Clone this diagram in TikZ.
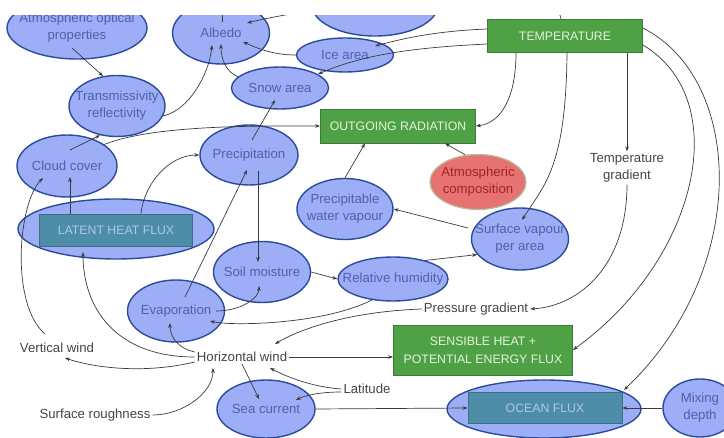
\documentclass[tikz,border=0pt]{standalone}
\usepackage{fontspec}
\setmainfont{Liberation Sans}
\usetikzlibrary{
  shapes.geometric,
  arrows.meta
}
\definecolor{blobfill}{HTML}{9DAEF6}
\definecolor{blobline}{HTML}{2B4B9B}
\definecolor{blobtext}{HTML}{4F60B0}
\definecolor{boxfill}{HTML}{4FA146}
\definecolor{boxline}{HTML}{3E7A38}
\definecolor{boxtext}{HTML}{E4F3DC}
\definecolor{fluxfill}{HTML}{4E8DA8}
\definecolor{fluxline}{HTML}{3D6E88}
\definecolor{fluxtext}{HTML}{ABC8EC}
\definecolor{compfill}{HTML}{E77272}
\definecolor{compline}{HTML}{B5BE9E}
\definecolor{comptext}{HTML}{9E2626}
\definecolor{labeltext}{HTML}{454545}
\definecolor{linkcol}{HTML}{3A3A3A}
\tikzset{
  every node/.style={font=\fontsize{13.2}{17}\selectfont},
  blob/.style={
    ellipse,
    draw=blobline,
    fill=blobfill,
    line width=1.4pt,
    text=blobtext,
    inner xsep=-25pt,
    inner ysep=-12pt,
    align=center
  },
  greenbox/.style={
    rectangle,
    draw=boxline,
    fill=boxfill,
    line width=0.8pt,
    text=boxtext,
    inner sep=0pt,
    align=center,
    font=\fontsize{12.3}{18}\selectfont
  },
  fluxbox/.style={
    rectangle,
    draw=fluxline,
    fill=fluxfill,
    line width=0.8pt,
    text=fluxtext,
    inner sep=0pt,
    font=\fontsize{12.3}{17}\selectfont
  },
  compblob/.style={
    ellipse,
    draw=compline,
    fill=compfill,
    line width=1.2pt,
    text=comptext,
    inner xsep=-25pt,
    inner ysep=-12pt,
    align=center
  },
  factor/.style={text=labeltext, align=center, inner sep=2pt},
  link/.style={draw=linkcol, line width=0.7pt, -{Stealth[length=5pt,width=3.6pt]}}
}

\begin{document}
\begin{tikzpicture}[x=1pt,y=-1pt]
  \useasboundingbox (0,0) rectangle (724,438);
  \clip (0,16) rectangle (724,438);

  \node[blob, minimum width=140pt, minimum height=62pt] (atmopt) at (77,28) {Atmospheric optical\\properties};
  \node[blob, minimum width=97pt, minimum height=62pt] (albedo) at (221,33) {Albedo};
  \node[blob, minimum width=126pt, minimum height=62pt] (topell) at (375,5) {};
  \node[blob, minimum width=97pt, minimum height=34pt] (icearea) at (345,55) {Ice area};
  \node[blob, minimum width=97pt, minimum height=42pt] (snowarea) at (280,88) {Snow area};
  \node[greenbox, minimum width=155pt, minimum height=33pt] (temp) at (565,36) {TEMPERATURE};
  \node[greenbox, minimum width=155pt, minimum height=34pt] (outrad) at (398,126) {OUTGOING RADIATION};
  \node[blob, minimum width=96pt, minimum height=61pt] (transm) at (117,106) {Transmissivity\\reflectivity};
  \node[blob, minimum width=100pt, minimum height=62pt] (cloud) at (67,166) {Cloud cover};
  \node[blob, minimum width=98pt, minimum height=60pt] (precip) at (249,155) {Precipitation};
  \node[compblob, minimum width=96pt, minimum height=55pt] (atmcomp) at (478,182) {Atmospheric\\composition};
  \node[factor] (tgrad) at (627,168) {Temperature\\gradient};
  \node[blob, minimum width=96pt, minimum height=61pt] (pwv) at (345,209) {Precipitable\\water vapour};
  \node[blob, minimum width=196pt, minimum height=60pt] (latent) at (116,229) {};
  \node[fluxbox, minimum width=153pt, minimum height=32pt] (latentbox) at (116,230) {LATENT HEAT FLUX};
  \node[blob, minimum width=97pt, minimum height=62pt] (svap) at (520,239) {Surface vapour\\per area};
  \node[blob, minimum width=97pt, minimum height=61pt] (soil) at (262,272) {Soil moisture};
  \node[blob, minimum width=110pt, minimum height=44pt] (relhum) at (393,279) {Relative humidity};
  \node[blob, minimum width=97pt, minimum height=62pt] (evap) at (176,311) {Evaporation};
  \node[factor] (pgrad) at (476,309) {Pressure gradient};
  \node[greenbox, minimum width=179pt, minimum height=50pt] (sensible) at (483,350) {SENSIBLE HEAT +\\POTENTIAL ENERGY FLUX};
  \node[factor] (vwind) at (57,348) {Vertical wind};
  \node[factor] (hwind) at (242,357) {Horizontal wind};
  \node[factor] (latitude) at (367,389) {Latitude};
  \node[factor] (sroughness) at (95,415) {Surface roughness};
  \node[blob, minimum width=98pt, minimum height=58pt] (seacur) at (266,409) {Sea current};
  \node[blob, minimum width=194pt, minimum height=58pt] (ocean) at (544,409) {};
  \node[fluxbox, minimum width=154pt, minimum height=31pt] (oceanbox) at (545,408) {OCEAN FLUX};
  \node[blob, minimum width=74pt, minimum height=58pt] (mixing) at (700,408) {Mixing\\depth};
  \coordinate (albtop) at (222,0);

  \draw[link] ([shift={(-5,20)}]atmopt.center) -- (transm.115);
  \draw[link] (transm.-12) .. controls +(25,-5) and +(-3,30) .. ([shift={(-9,12)}]albedo.center);
  \draw[link] (snowarea.165) .. controls +(-12,-5) and +(0,15) .. ([shift={(0,11)}]albedo.center);
  \draw[link] (icearea.west) .. controls +(-25,0) and +(12,5) .. ([shift={(22,9)}]albedo.center);
  \draw[link] ([shift={(0,-7)}]temp.west) .. controls +(-50,2) and +(30,-8) .. ([shift={(30,-9)}]icearea.center);
  \draw[link] ([shift={(0,8)}]temp.west) .. controls +(-60,3) and +(50,-22) .. (snowarea.20);
  \draw[link] ([shift={(-4,0)}]temp.north) .. controls +(-2,-40) and +(80,-20) .. ([shift={(26,-10)}]albedo.center);
  \draw[draw=linkcol, line width=0.7pt] ([shift={(1,-11)}]albedo.center) -- (albtop);

  \draw[link] (cloud.30) .. controls +(50,-20) and +(-60,0) .. (outrad.west);
  \draw[link] ([shift={(3,-16)}]cloud.center) -- (transm.-120);
  \draw[link] ([shift={(-46,0)}]latentbox.north) -- ([shift={(3,11)}]cloud.center);
  \draw[link] ([shift={(25,0)}]latentbox.north) .. controls +(3,-30) and +(-30,0) .. (precip.west);
  \draw[link] ([shift={(-12,-14)}]vwind.center) .. controls +(-35,-30) and +(-25,25) .. ([shift={(-24,12)}]cloud.center);
  \draw[link] (hwind.west) .. controls +(-80,0) and +(0,55) .. ([shift={(-33,23)}]latent.center);
  \draw[link] ([shift={(0,5)}]hwind.west) .. controls +(-50,12) and +(30,10) .. ([shift={(8,10)}]vwind.center);
  \draw[link] ([shift={(0,-5)}]hwind.west) .. controls +(-15,-3) and +(0,15) .. ([shift={(-6,12)}]evap.center);
  \draw[link] (sroughness.east) .. controls +(30,0) and +(0,25) .. ([shift={(-29,11)}]hwind.center);

  \draw[link] ([shift={(9,-14)}]evap.center) -- ([shift={(-2,15)}]precip.center);
  \draw[link] ([shift={(3,-15)}]precip.center) -- ([shift={(-5,12)}]snowarea.center);
  \draw[link] ([shift={(9,16)}]precip.center) -- ([shift={(-4,-10)}]soil.center);
  \draw[link] ([shift={(40,0)}]evap.center) .. controls +(25,0) and +(0,12) .. ([shift={(-3,14)}]soil.center);
  \draw[link] (soil.east) -- (relhum.west);
  \draw[link] (relhum.30) -- (svap.-160);
  \draw[link] ([shift={(-52,-11)}]svap.center) -- (pwv.east);
  \draw[link] (pwv.north) -- ([shift={(-33,0)}]outrad.south);
  \draw[link] (atmcomp.115) -- ([shift={(47,0)}]outrad.south);

  \draw[link] ([shift={(-49,0)}]temp.south) .. controls +(0,45) and +(25,-3) .. (outrad.east);
  \draw[link] ([shift={(2,0)}]temp.south) .. controls +(-1,115) and +(22,-35) .. ([shift={(2,-19)}]svap.center);
  \draw[link] ([shift={(62,0)}]temp.south) -- (tgrad.north);
  \draw[link] (tgrad.south) .. controls +(0,80) and +(50,-3) .. (pgrad.east);
  \draw[link] ([shift={(0,9)}]temp.east) .. controls +(92,55) and +(125,-90) .. (sensible.east);
  \draw[link] ([shift={(0,-8)}]temp.east) .. controls +(102,52) and +(126,-120) .. ([shift={(80,-19)}]ocean.center);

  \draw[link] (pgrad.west) .. controls +(-80,3) and +(20,-12) .. ([shift={(33,-13)}]hwind.center);
  \draw[link] (relhum.-135) .. controls +(-50,25) and +(20,5) .. ([shift={(34,10)}]evap.center);
  \draw[link] (hwind.east) -- (hwind.east -| sensible.west);
  \draw[link] (hwind.south) -- ([shift={(-7,-10)}]seacur.center);
  \draw[link] (latitude.west) .. controls +(-30,-2) and +(15,8) .. ([shift={(28,11)}]hwind.center);
  \draw[link] ([shift={(0,3)}]latitude.west) .. controls +(-20,0) and +(10,-5) .. ([shift={(30,-9)}]seacur.center);
  \draw[link] (seacur.east) -- (oceanbox.west);
  \draw[link] (mixing.west) -- (oceanbox.east);
\end{tikzpicture}
\end{document}
